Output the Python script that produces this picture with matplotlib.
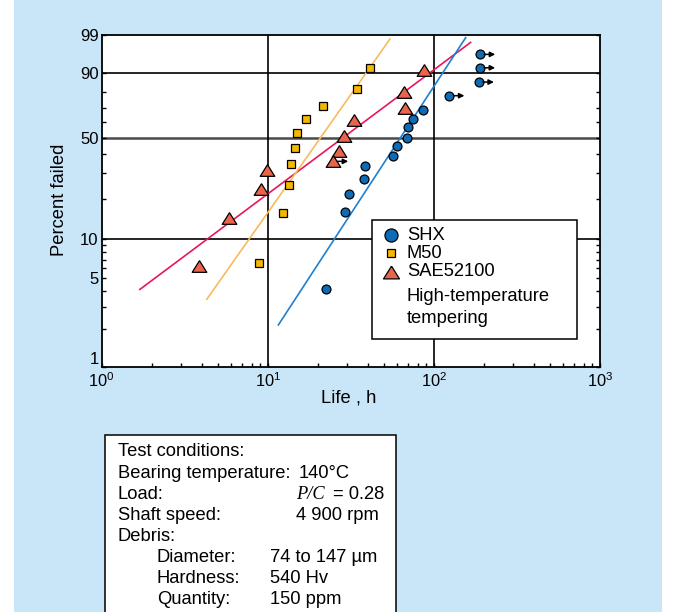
import numpy as np
import matplotlib
matplotlib.use("Agg")
import matplotlib.pyplot as plt
from matplotlib.patches import Rectangle
from matplotlib.transforms import offset_copy

plt.rcParams['font.family'] = ['Liberation Sans', 'DejaVu Sans']
plt.rcParams['mathtext.fontset'] = 'custom'
plt.rcParams['mathtext.rm'] = 'Liberation Sans'
plt.rcParams['mathtext.it'] = 'Liberation Sans:italic'

# ---- data: life (h) and cumulative percent failed ----
shx_life = [190.2, 190.0, 186.8, 124.1, 86.3, 74.6, 69.6, 69.2, 60.0, 56.7,
            38.7, 38.1, 30.8, 29.2, 22.3]
shx_pct = [96.0, 91.9, 85.5, 77.7, 68.4, 62.3, 56.9, 50.0, 44.6, 38.8,
           33.5, 27.5, 21.6, 16.0, 4.1]
shx_suspended = [True, True, True, True, False, False, False, False, False,
                 False, False, False, False, False, False]

m50_life = [41.3, 34.3, 21.4, 17.05, 15.07, 14.6, 13.8, 13.5, 12.3, 8.86]
m50_pct = [91.7, 81.5, 71.3, 62.0, 52.7, 43.4, 34.6, 25.0, 15.9, 6.6]

sae_life = [87.5, 66.5, 66.8, 33.2, 28.9, 27.0, 24.8, 9.86, 9.08, 5.85, 3.88]
sae_pct = [91.0, 80.2, 69.8, 61.4, 50.8, 41.7, 36.0, 31.6, 23.5, 14.5, 6.2]
sae_suspended = [False, False, False, False, False, False, True, False,
                 False, False, False]

# Weibull fit lines (end points)
shx_fit_life = [11.6, 155.4]
shx_fit_pct = [2.15, 98.75]
m50_fit_life = [4.30, 54.4]
m50_fit_pct = [3.43, 98.6]
sae_fit_life = [1.70, 166.5]
sae_fit_pct = [4.1, 98.2]

y_major = [1, 5, 10, 50, 90, 99]
y_minor = [2, 3, 4, 6, 7, 8, 9, 20, 30, 40, 60, 70, 80]
y_grid = [90, 10]
y_grid_mid = [50]
x_major = [1, 10, 100, 1000]
x_grid = [10, 100]

legend_labels = ['SHX', 'M50', 'SAE52100']
legend_note = ['High-temperature', 'tempering']

cond_rows = [
    ('Test conditions:', None),
    ('Bearing temperature:', '140\u00b0C'),
    ('Load:', 'PC'),
    ('Shaft speed:', '4 900 rpm'),
    ('Debris:', None),
    ('    Diameter:', '74 to 147 \u00b5m'),
    ('    Hardness:', '540 Hv'),
    ('    Quantity:', '150 ppm'),
]

# ---- colours ----
BG = '#c9e5f8'
C_SHX = '#0e6cb6'
C_M50 = '#f5b800'
C_SAE = '#e8644a'
L_SHX = '#2080d0'
L_M50 = '#f7bb5c'
L_SAE = '#e8165e'

FS = 13.2

W, H = 677, 612
fig = plt.figure(figsize=(W / 100, H / 100), dpi=100)
fig.patch.set_facecolor('white')


def fx(x):
    return x / W


def fy(y):
    return 1 - y / H


# light blue panel
fig.patches.append(Rectangle((fx(14), 0), fx(662) - fx(14), 1,
                             transform=fig.transFigure, facecolor=BG,
                             edgecolor='none', zorder=-10))

ax = fig.add_axes([fx(101.5), fy(366.7), fx(600) - fx(101.5),
                   fy(35) - fy(366.7)])
ax.set_facecolor('white')


def weib_fwd(p):
    p = np.clip(np.asarray(p, dtype=float), 1e-6, 100 - 1e-6)
    return np.log(-np.log(1 - p / 100.0))


def weib_inv(w):
    return 100.0 * (1 - np.exp(-np.exp(np.asarray(w, dtype=float))))


ax.set_xscale('log')
ax.set_yscale('function', functions=(weib_fwd, weib_inv))
ax.set_xlim(1, 1000)
ax.set_ylim(1, 99)

# ticks
ax.set_yticks(y_major)
ax.set_yticklabels([str(v) for v in y_major])
ax.set_yticks(y_minor, minor=True)
ax.set_xticks(x_major)
ax.set_xticklabels([r'$\mathdefault{10^{%d}}$' % int(np.log10(v)) for v in x_major])
ax.set_xticks([m * d for d in [1, 10, 100] for m in range(2, 10)], minor=True)
ax.tick_params(axis='both', which='both', direction='in', length=3,
               width=1, colors='black')
ax.tick_params(axis='y', which='both', left=True, right=True, pad=2,
               labelsize=12)
ax.tick_params(axis='x', which='both', top=False, bottom=True, pad=3,
               labelsize=11.8)
for lbl in ax.get_yticklabels():
    if lbl.get_text() == '1':
        lbl.set_verticalalignment('bottom')
for s in ax.spines.values():
    s.set_linewidth(1.3)

# grid lines
for v in y_grid:
    ax.axhline(v, color='black', lw=1.2, zorder=1)
for v in y_grid_mid:
    ax.axhline(v, color='#4a4a4a', lw=1.8, zorder=1)
for v in x_grid:
    ax.axvline(v, color='black', lw=1.2, zorder=1)

# fit lines
ax.plot(sae_fit_life, sae_fit_pct, color=L_SAE, lw=1.2, zorder=2)
ax.plot(m50_fit_life, m50_fit_pct, color=L_M50, lw=1.2, zorder=2)
ax.plot(shx_fit_life, shx_fit_pct, color=L_SHX, lw=1.2, zorder=2)

tri = [(0, 0.8), (-1, -0.8), (1, -0.8), (0, 0.8)]

ax.plot(m50_life, m50_pct, ls='none', marker='s', ms=5.6, mfc=C_M50,
        mec='black', mew=0.9, zorder=4)
ax.plot(sae_life, sae_pct, ls='none', marker=tri, ms=10.5, mfc=C_SAE,
        mec='black', mew=0.9, zorder=4)
ax.plot(shx_life, shx_pct, ls='none', marker='o', ms=6.4, mfc=C_SHX,
        mec='black', mew=0.9, zorder=5)

# arrows on suspended (unfailed) specimens
arrow_tr = offset_copy(ax.transData, fig=fig, x=15, y=0, units='dots')


def suspension_arrow(x, y):
    ax.annotate('', xy=(x, y), xycoords=arrow_tr, xytext=(-11, 0),
                textcoords='offset pixels',
                arrowprops=dict(arrowstyle='-|>', color='black', lw=1.1,
                                mutation_scale=7.5, shrinkA=0, shrinkB=0),
                zorder=6)


for x, y, s in zip(shx_life, shx_pct, shx_suspended):
    if s:
        suspension_arrow(x, y)
for x, y, s in zip(sae_life, sae_pct, sae_suspended):
    if s:
        suspension_arrow(x, y)

# axis titles
fig.text(fx(349), fy(398), 'Life , h', fontsize=FS, ha='center', va='center')
fig.text(fx(59), fy(200), 'Percent failed', fontsize=FS, ha='center',
         va='center', rotation=90)

# legend box
fig.patches.append(Rectangle((fx(372), fy(339)), fx(577) - fx(372),
                             fy(220) - fy(339), transform=fig.transFigure,
                             facecolor='white', edgecolor='black', lw=1.1,
                             zorder=5))
leg_y = [235, 253.3, 272]
leg_markers = [dict(marker='o', ms=9.4, mfc=C_SHX),
               dict(marker='s', ms=6.0, mfc=C_M50),
               dict(marker=tri, ms=11.5, mfc=C_SAE)]
for lab, yy, mk in zip(legend_labels, leg_y, leg_markers):
    fig.add_artist(plt.Line2D([fx(391)], [fy(yy)], transform=fig.transFigure,
                              ls='none', mec='black', mew=0.9, zorder=6, **mk))
    fig.text(fx(407), fy(yy), lab, fontsize=FS, ha='left', va='center',
             zorder=6)
for lab, yy in zip(legend_note, [296.7, 318.3]):
    fig.text(fx(407), fy(yy), lab, fontsize=FS, ha='left', va='center',
             zorder=6)

# test-conditions box
fig.patches.append(Rectangle((fx(105), fy(640)), fx(395.5) - fx(105),
                             fy(435) - fy(640), transform=fig.transFigure,
                             facecolor='white', edgecolor='black', lw=1.1,
                             zorder=5))
for i, (key, val) in enumerate(cond_rows):
    yy = 452 + 21.1 * i
    indent = key.startswith('    ')
    fig.text(fx(157 if indent else 117.5), fy(yy), key.strip(), fontsize=FS,
             ha='left', va='center', zorder=6)
    if val is None:
        continue
    if val == 'PC':
        fig.text(fx(296), fy(yy), 'P/C', fontsize=FS, ha='left',
                 va='center', family='Liberation Serif', style='italic',
                 zorder=6)
        fig.text(fx(384), fy(yy), '= 0.28', fontsize=FS, ha='right',
                 va='center', zorder=6)
    elif indent:
        fig.text(fx(270), fy(yy), val, fontsize=FS, ha='left', va='center',
                 zorder=6)
    else:
        fig.text(fx(296 if i == 3 else 299), fy(yy), val, fontsize=FS,
                 ha='left', va='center', zorder=6)

fig.savefig('out.png', dpi=100, facecolor=fig.get_facecolor())
